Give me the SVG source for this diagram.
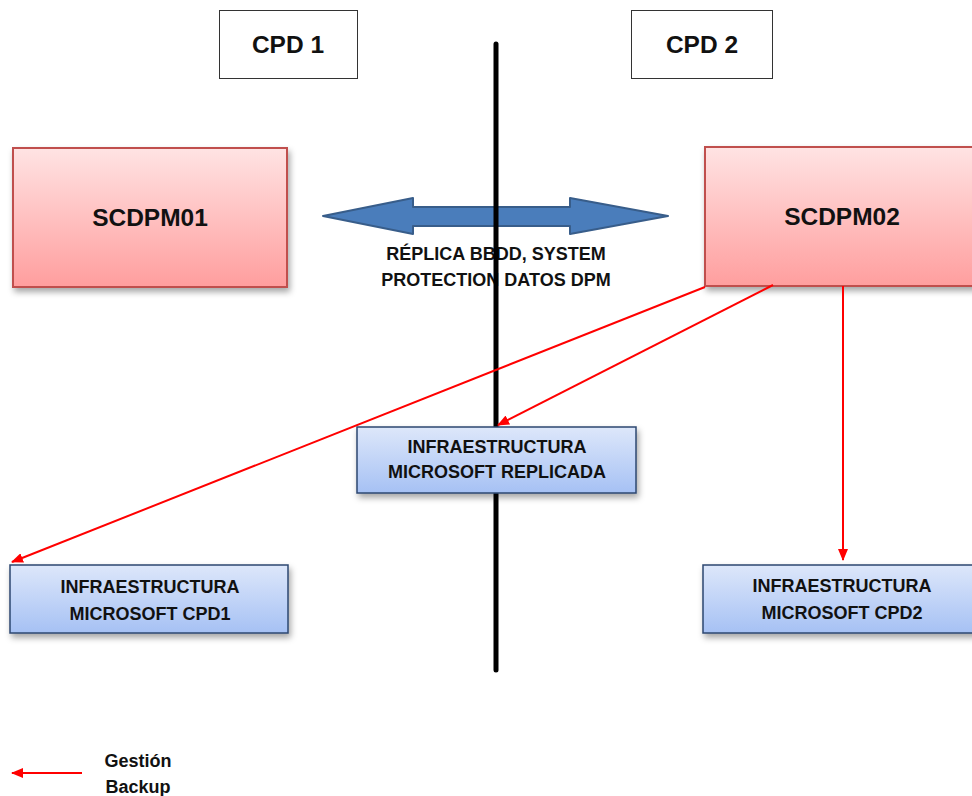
<svg xmlns="http://www.w3.org/2000/svg" width="972" height="796" viewBox="0 0 972 796">
<defs>
<linearGradient id="gRed" x1="0" y1="0" x2="0" y2="1">
<stop offset="0" stop-color="#ffe3e3"/><stop offset="1" stop-color="#ff9e9e"/>
</linearGradient>
<linearGradient id="gBlue" x1="0" y1="0" x2="0" y2="1">
<stop offset="0" stop-color="#dde7fa"/><stop offset="1" stop-color="#a6c1f4"/>
</linearGradient>
<filter id="sh" x="-10%" y="-10%" width="130%" height="140%">
<feDropShadow dx="2" dy="4" stdDeviation="3" flood-color="#000" flood-opacity="0.35"/>
</filter>
<marker id="ah" viewBox="0 0 12 10" refX="11" refY="5" markerWidth="12" markerHeight="10" markerUnits="userSpaceOnUse" orient="auto">
<path d="M0,0 L12,5 L0,10 Z" fill="#ff0000"/>
</marker>
<style>
text{font-family:"Liberation Sans",Arial,sans-serif;font-weight:bold;fill:#111;text-anchor:middle}
.lbl{fill:#fff;stroke:#333;stroke-width:1}
.red{fill:url(#gRed);stroke:#c0504d;stroke-width:2;filter:url(#sh)}
.blue{fill:url(#gBlue);stroke:#2c4770;stroke-width:1.5;filter:url(#sh)}
.conn{stroke:#ff0000;stroke-width:2;fill:none;marker-end:url(#ah)}
.t22{font-size:24.5px}
.t17{font-size:18px}
</style>
</defs>
<rect width="972" height="796" fill="#fff"/>

<g id="cpd1"><rect class="lbl" x="219.5" y="10.5" width="138" height="68"/><text class="t22" x="288" y="53">CPD 1</text></g>
<g id="cpd2"><rect class="lbl" x="631.5" y="10.5" width="141" height="68"/><text class="t22" x="702" y="53">CPD 2</text></g>

<g id="scdpm01"><rect class="red" x="13" y="148" width="274" height="139"/><text class="t22" x="150" y="226">SCDPM01</text></g>
<g id="scdpm02"><rect class="red" x="705" y="147" width="280" height="139"/><text class="t22" x="842" y="225">SCDPM02</text></g>

<g id="replica">
<polygon points="323,216 413,198 413,207 570,207 570,198 668,216 570,234 570,226 413,226 413,234" fill="#4a7dbb" stroke="#385d8a" stroke-width="2" stroke-linejoin="round"/>
<text class="t17" x="496" y="260">RÉPLICA BBDD, SYSTEM</text>
<text class="t17" x="496" y="286">PROTECTION DATOS DPM</text>
</g>

<g id="divider"><line x1="496" y1="44" x2="496" y2="670" stroke="#000" stroke-width="5" stroke-linecap="round"/></g>

<g id="infra_rep"><rect class="blue" x="357" y="427" width="279" height="66"/><text class="t17" x="497" y="453">INFRAESTRUCTURA</text><text class="t17" x="497" y="478">MICROSOFT REPLICADA</text></g>
<g id="infra_cpd1"><rect class="blue" x="10" y="565" width="278" height="68"/><text class="t17" x="150" y="593">INFRAESTRUCTURA</text><text class="t17" x="150" y="620">MICROSOFT CPD1</text></g>
<g id="infra_cpd2"><rect class="blue" x="703" y="565" width="280" height="68"/><text class="t17" x="842" y="592">INFRAESTRUCTURA</text><text class="t17" x="842" y="619">MICROSOFT CPD2</text></g>

<g id="connectors">
<line class="conn" x1="705" y1="287" x2="12" y2="562"/>
<line class="conn" x1="773" y1="285" x2="498" y2="425"/>
<line class="conn" x1="843" y1="286" x2="843" y2="560"/>
</g>

<g id="legend">
<line class="conn" x1="82" y1="773" x2="12" y2="773"/>
<text class="t17" x="138" y="767">Gestión</text>
<text class="t17" x="138" y="793">Backup</text>
</g>
</svg>
